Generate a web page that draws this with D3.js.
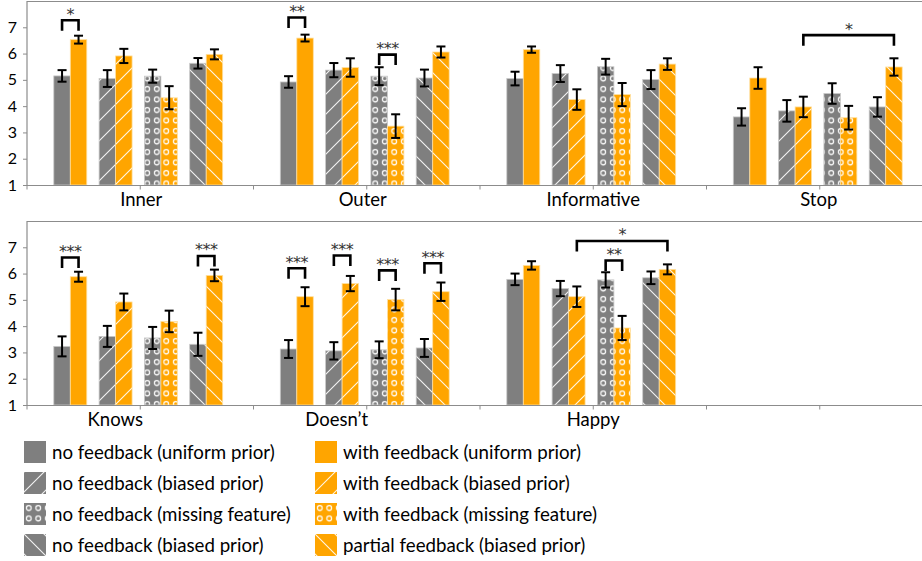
<!DOCTYPE html>
<html>
<head>
  <meta http-equiv="Content-Type" content="text/html; charset=utf-8"/>
  <title>Feedback ratings</title>
  <script src="https://d3js.org/d3.v7.min.js"></script>
  <style>
    body { margin: 0; background: #fff; }
    text { font-family: Lato, "Open Sans", sans-serif; }
  </style>
</head>
<body>
<svg width="922" height="561"></svg>

<script type="text/javascript">

// categories
const topCats = ["Inner", "Outer", "Informative", "Stop"];
const bottomCats = ["Knows", "Doesn\u2019t", "Happy", ""];

// series order: gray/orange pairs for the 4 conditions
const seriesLabels = [
  "no feedback (uniform prior)",
  "with feedback (uniform prior)",
  "no feedback (biased prior)",
  "with feedback (biased prior)",
  "no feedback (missing feature)",
  "with feedback (missing feature)",
  "no feedback (biased prior)",
  "partial feedback (biased prior)"
];

// means per category (8 series each)
const topMeans = [
  [5.15, 6.53, 5.05, 5.91, 5.14, 4.32, 5.63, 5.97],
  [4.92, 6.59, 5.37, 5.47, 5.14, 3.24, 5.07, 6.06],
  [5.05, 6.15, 5.24, 4.25, 5.50, 4.44, 5.01, 5.60],
  [3.59, 5.07, 3.82, 3.97, 4.48, 3.56, 3.97, 5.49]
];
const topErr = [
  [0.22, 0.15, 0.32, 0.27, 0.25, 0.44, 0.20, 0.19],
  [0.22, 0.13, 0.27, 0.35, 0.34, 0.45, 0.32, 0.21],
  [0.26, 0.12, 0.32, 0.39, 0.30, 0.44, 0.36, 0.22],
  [0.33, 0.41, 0.41, 0.39, 0.39, 0.45, 0.37, 0.33]
];
const bottomMeans = [
  [3.23, 5.88, 3.61, 4.92, 3.55, 4.18, 3.31, 5.93],
  [3.13, 5.12, 3.06, 5.62, 3.10, 5.01, 3.17, 5.31],
  [5.78, 6.31, 5.43, 5.12, 5.76, 3.93, 5.84, 6.16]
];
const bottomErr = [
  [0.38, 0.19, 0.40, 0.32, 0.42, 0.41, 0.44, 0.22],
  [0.34, 0.36, 0.33, 0.29, 0.32, 0.41, 0.34, 0.35],
  [0.22, 0.16, 0.29, 0.39, 0.29, 0.46, 0.24, 0.19]
];

// significance brackets: category, from series, to series, level (rating), label
const topSig = [
  {cat: 0, a: 0, b: 1, level: 7.27, label: "*"},
  {cat: 1, a: 0, b: 1, level: 7.37, label: "**"},
  {cat: 1, a: 4, b: 5, level: 5.96, label: "***"},
  {cat: 3, a: 3, b: 7, level: 6.70, label: "*"}
];
const bottomSig = [
  {cat: 0, a: 0, b: 1, level: 6.61, label: "***"},
  {cat: 0, a: 6, b: 7, level: 6.67, label: "***"},
  {cat: 1, a: 0, b: 1, level: 6.20, label: "***"},
  {cat: 1, a: 2, b: 3, level: 6.69, label: "***"},
  {cat: 1, a: 4, b: 5, level: 6.12, label: "***"},
  {cat: 1, a: 6, b: 7, level: 6.39, label: "***"},
  {cat: 2, a: 4, b: 5, level: 6.50, label: "**"},
  {cat: 2, a: 3, b: 7, level: 7.24, label: "*"}
];

const yTicks = [1, 2, 3, 4, 5, 6, 7];

const gray = "#7f7f7f";
const orange = "#ffa500";
const axisColor = "#8c8c8c";
const patternKinds = ["solid", "up", "dots", "down"];

const svg = d3.select("svg");
const defs = svg.append("defs");

// fill patterns
[gray, orange].forEach((color, ci) => {
  const up = defs.append("pattern")
      .attr("id", "up" + ci)
      .attr("patternUnits", "userSpaceOnUse")
      .attr("width", 20).attr("height", 20);
  up.append("rect").attr("width", 20).attr("height", 20).attr("fill", color);
  up.append("path").attr("d", "M-2,22L22,-2M-2,2L2,-2M18,22L22,18")
      .attr("stroke", "#fff").attr("stroke-width", 1.1).attr("stroke-opacity", 0.9);

  const down = defs.append("pattern")
      .attr("id", "down" + ci)
      .attr("patternUnits", "userSpaceOnUse")
      .attr("width", 20).attr("height", 20);
  down.append("rect").attr("width", 20).attr("height", 20).attr("fill", color);
  down.append("path").attr("d", "M-2,-2L22,22M18,-2L22,2M-2,18L2,22")
      .attr("stroke", "#fff").attr("stroke-width", 1.1).attr("stroke-opacity", 0.9);

  const dots = defs.append("pattern")
      .attr("id", "dots" + ci)
      .attr("patternUnits", "userSpaceOnUse")
      .attr("width", 9.5).attr("height", 10.5);
  dots.append("rect").attr("width", 9.5).attr("height", 10.5).attr("fill", color);
  dots.append("circle").attr("cx", 4.75).attr("cy", 5).attr("r", 2.4)
      .attr("fill", "none").attr("stroke", "#fff").attr("stroke-width", 1.2);
});

function fillFor(s) {
  const ci = s % 2;
  const kind = patternKinds[Math.floor(s / 2)];
  if (kind === "solid") return ci ? orange : gray;
  return "url(#" + kind + ci + ")";
}

const width = 922;
const plotLeft = 27;
const catWidth = 226.5;

function drawPanel(cats, means, errs, sigs, top, bottom, labelShift) {
  const g = svg.append("g");

  const x = d3.scaleBand()
      .domain(d3.range(cats.length))
      .range([plotLeft, plotLeft + catWidth * cats.length])
      .padding(0);

  const groupX = d3.scaleBand()
      .domain(d3.range(4))
      .range([-2, catWidth - 2])
      .paddingInner(0.272)
      .paddingOuter(0.636);

  const barW = groupX.bandwidth() / 2;

  const y = d3.scaleLinear()
      .domain([1, 8])
      .range([bottom, top]);

  const barX = (c, s) => x(c) + groupX(Math.floor(s / 2)) + (s % 2) * barW;

  // frame: top border
  g.append("line")
      .attr("x1", plotLeft).attr("x2", width)
      .attr("y1", top + 0.5).attr("y2", top + 0.5)
      .attr("stroke", axisColor).attr("stroke-width", 1.2);

  // y axis
  const yAxis = g.append("g")
      .attr("transform", `translate(${plotLeft},0)`)
      .call(d3.axisLeft(y).tickValues(yTicks).tickFormat(d3.format("d"))
        .tickSize(4).tickSizeOuter(0).tickPadding(6));
  yAxis.select(".domain").attr("stroke", axisColor).attr("stroke-width", 1.2)
      .attr("d", `M0,${top}V${bottom}`);
  yAxis.selectAll(".tick line").attr("stroke", axisColor);
  yAxis.selectAll(".tick text")
      .attr("fill", "#000")
      .style("font-family", "Lato, sans-serif")
      .style("font-size", "16px");

  // bars
  const bars = [];
  means.forEach((row, c) => row.forEach((v, s) => bars.push({c, s, v, e: errs[c][s]})));

  g.selectAll(".bar")
      .data(bars)
      .join("rect")
      .attr("class", "bar")
      .attr("x", d => barX(d.c, d.s))
      .attr("width", barW)
      .attr("y", d => y(d.v))
      .attr("height", d => y(1) - y(d.v))
      .attr("fill", d => fillFor(d.s))
      .attr("stroke", d => d.s % 2 ? "#ffe0a0" : "#c8c8c8")
      .attr("stroke-width", 0.8);

  // x axis
  const xAxisY = bottom + 0.5;
  g.append("line")
      .attr("x1", plotLeft).attr("x2", width)
      .attr("y1", xAxisY).attr("y2", xAxisY)
      .attr("stroke", axisColor).attr("stroke-width", 1.2);
  const tickPos = d3.range(cats.length * 2 + 1).map(i => plotLeft + i * catWidth / 2);
  g.selectAll(".xtick")
      .data(tickPos)
      .join("line")
      .attr("class", "xtick")
      .attr("x1", d => d).attr("x2", d => d)
      .attr("y1", xAxisY).attr("y2", xAxisY + 4)
      .attr("stroke", axisColor);

  // error bars
  const eb = g.selectAll(".err")
      .data(bars)
      .join("g")
      .attr("class", "err")
      .attr("transform", d => `translate(${barX(d.c, d.s) + barW / 2},0)`)
      .attr("stroke", "#000")
      .attr("stroke-width", 2);
  eb.append("line").attr("y1", d => y(d.v + d.e)).attr("y2", d => y(d.v - d.e));
  eb.append("line").attr("x1", -4.5).attr("x2", 4.5)
      .attr("y1", d => y(d.v + d.e)).attr("y2", d => y(d.v + d.e));
  eb.append("line").attr("x1", -4.5).attr("x2", 4.5)
      .attr("y1", d => y(d.v - d.e)).attr("y2", d => y(d.v - d.e));

  // significance brackets
  const sg = g.selectAll(".sig")
      .data(sigs)
      .join("g")
      .attr("class", "sig");
  sg.append("path")
      .attr("d", d => {
        const x1 = barX(d.cat, d.a) + barW / 2;
        const x2 = barX(d.cat, d.b) + barW / 2;
        const yy = y(d.level);
        return `M${x1},${yy + 10.5}V${yy}H${x2}V${yy + 10.5}`;
      })
      .attr("fill", "none")
      .attr("stroke", "#000")
      .attr("stroke-width", 2.6);
  sg.append("text")
      .attr("x", d => (barX(d.cat, d.a) + barX(d.cat, d.b)) / 2 + barW / 2)
      .attr("y", d => y(d.level) - 0.5)
      .attr("text-anchor", "middle")
      .attr("fill", "#333")
      .style("font-family", "'DejaVu Sans', sans-serif")
      .style("font-size", "16px")
      .style("letter-spacing", "-0.5px")
      .text(d => d.label);

  // category labels
  g.selectAll(".cat")
      .data(cats)
      .join("text")
      .attr("class", "cat")
      .attr("x", (d, i) => x(i) + catWidth / 2 + labelShift[i])
      .attr("y", bottom + 21)
      .attr("text-anchor", "middle")
      .attr("fill", "#000")
      .style("font-size", "18.5px")
      .text(d => d);
}

drawPanel(topCats, topMeans, topErr, topSig, 1, 185, [1, -4, 0, -1]);
drawPanel(bottomCats, bottomMeans, bottomErr, bottomSig, 221, 405, [-25, -30, 0, 0]);

// legend
const legend = svg.append("g");
const legendCols = [24, 315];
const legendRows = d3.scaleLinear().domain([0, 3]).range([441, 534]);
const items = seriesLabels.map((label, s) => ({label, s, col: s % 2, row: Math.floor(s / 2)}));
const li = legend.selectAll(".item")
    .data(items)
    .join("g")
    .attr("class", "item")
    .attr("transform", d => `translate(${legendCols[d.col]},${legendRows(d.row)})`);
li.append("rect")
    .attr("width", 22).attr("height", 22)
    .attr("fill", d => fillFor(d.s));
li.append("text")
    .attr("x", 28).attr("y", 11)
    .attr("dy", "0.35em")
    .attr("fill", "#000")
    .style("font-size", "18.7px")
    .text(d => d.label);

</script>
</body>
</html>
